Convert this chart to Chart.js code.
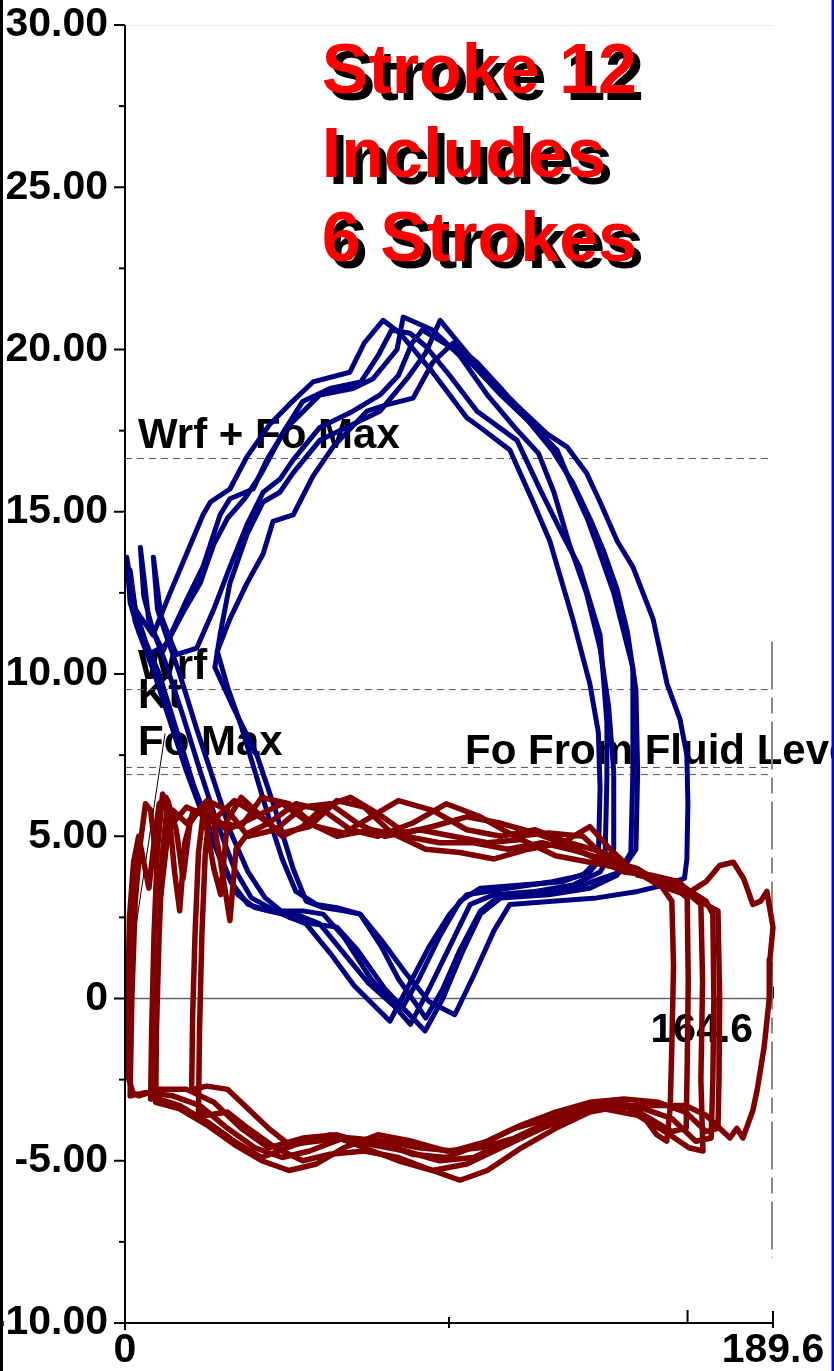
<!DOCTYPE html>
<html>
<head>
<meta charset="utf-8">
<script src="https://cdn.jsdelivr.net/npm/chart.js@4.4.1/dist/chart.umd.min.js"></script>
<style>
  html, body { margin: 0; padding: 0; background: #fff; }
  #wrap { width: 834px; height: 1371px; }
</style>
</head>
<body>
<div id="wrap"><canvas id="card" width="834" height="1371"></canvas></div>
<script>
// axis ranges and ticks
const xRange = [0, 189.6];
const yRange = [-10, 30];
const yTickValues = [30, 25, 20, 15, 10, 5, 0, -5, -10];
const yTickLabels = ['30.00', '25.00', '20.00', '15.00', '10.00', '5.00', '0', '-5.00', '-10.00'];
const yMinorTicks = [27.5, 22.5, 17.5, 12.5, 7.5, 2.5, -2.5, -7.5];
const xTickValues = [0, 94.8, 164.6, 189.6];
const xTickLabels = ['0', '', '', '189.6'];

// reference levels
const refNames = ['Wrf + Fo Max', 'Wrf', 'Fo Max', 'Fo From Fluid Level'];
const refLevels = [16.64, 9.52, 7.12, 6.90];
const ktLabel = 'Kt';
const strokeMark = 164.6;
const strokeMarkLabel = '164.6';
const titleLines = ['Stroke 12', 'Includes', '6 Strokes'];

// surface card, six strokes (blue)
const surf1 = [[0.5,13.6],[1.5,12.2],[4,11.3],[8,10.2],[13,8.6],[18,7.0],[24,5.3],[29,4.0],[33,3.2],[38,2.8],[46,2.6],[53,2.3],[60,1.4],[67,0.4],[77.5,-0.7],[83,0.4],[89,1.6],[95,2.6],[100,3.2],[112,3.4],[125,3.6],[134,3.8],[138.5,4.3],[139,6.5],[138.5,8.2],[136,9.7],[131,11.7],[124.3,14.1],[119.4,15.3],[112.6,16.9],[103.9,17.6],[100,17.9],[90,19.3],[80.5,20.5],[75.5,20.9],[70,20.2],[65.8,19.3],[55,19.0],[48,18.3],[42.4,17.7],[35.7,16.7],[30.7,15.7],[25,15.3],[22.8,14.9],[18,13.7],[13.2,12.5],[8.2,11.2],[3,12.0],[0.5,13.6]];
const surf2 = [[1.5,13.2],[3,12],[6,11],[10,10],[15,8.3],[20,6.6],[26,4.9],[31,3.6],[36,2.9],[42,2.7],[50,2.6],[57,2.3],[64,1.4],[71,0.5],[80.5,-0.4],[86,0.6],[92,1.9],[98,3.0],[104,3.4],[116,3.5],[128,3.6],[136,3.9],[140.5,4.5],[141,6.8],[141,8.5],[139,11.2],[133,13.3],[128,14.3],[121.4,15.7],[114.7,17.2],[103,18.1],[95,19.2],[88,20.1],[83.4,20.5],[78,20.6],[74,19.8],[69,19.0],[60,18.8],[52,18.4],[46,17.4],[40,16.2],[35,15.4],[30,14.8],[26,14.0],[22,12.8],[17,11.9],[12,10.9],[7,10.6],[3,11.6],[1.5,13.2]];
const surf3 = [[4.5,13.9],[5.5,12.4],[8,11.4],[12,10.3],[17,8.7],[22,7.0],[27,5.4],[32,4.0],[37,3.1],[44,2.7],[52,2.7],[58,2.6],[64,1.9],[72,0.6],[83.5,-0.8],[89,0.3],[95,1.6],[101,2.9],[108,3.2],[120,3.3],[131,3.5],[139,3.9],[143,4.6],[143,7.0],[141.5,9.0],[139,10.8],[135,12.5],[130,14.0],[125.5,15.6],[121,16.8],[114,17.6],[106,18.6],[98,19.8],[90,20.6],[81.4,21.0],[79.6,20.0],[72.6,19.1],[66.7,18.8],[57,18.6],[47.4,17.6],[41.5,16.6],[37.5,15.7],[30.7,15.4],[27.8,14.9],[22.8,13.3],[18.1,12.3],[11.1,10.7],[7,11.6],[5.5,13.0],[4.5,13.9]];
const surf4 = [[8.3,13.6],[9.5,12],[12,11.2],[16,10.0],[21,8.3],[26,6.7],[31,5.1],[36,3.9],[41,3.1],[48,2.5],[55,2.3],[62,2.2],[68,1.5],[76,0.3],[87.8,-1.0],[93,0.0],[99,1.5],[104,2.6],[110,3.1],[124,3.2],[136,3.4],[144,3.8],[148,4.5],[148.6,7.0],[148.6,10.2],[143,12.5],[138,14.0],[135.2,14.8],[130,16.0],[126.4,16.9],[118,17.8],[110,18.6],[102,19.5],[95,20.1],[87,20.6],[84,20.2],[80,19.2],[74.6,18.6],[66.7,18.1],[57,17.6],[49.2,16.6],[45.3,16.0],[40.4,15.6],[35.7,14.6],[30.7,13.3],[26,12.0],[21,10.8],[15,10.6],[10.5,11.8],[8.3,13.6]];
const surf5 = [[27,10.7],[30,9.6],[34,8.4],[38,7.0],[42,5.6],[46,4.3],[50,3.3],[56,2.9],[62,2.8],[68.8,2.6],[75,1.6],[80,0.6],[88,-0.6],[93,0.3],[98,1.5],[104,2.7],[110,3.2],[122,3.3],[134,3.5],[145,3.9],[149.5,4.6],[150,7.0],[149.5,9.5],[147,11.3],[144,12.6],[140,13.8],[136,14.8],[131,15.9],[125,16.9],[118,17.8],[110,18.8],[103,19.6],[96,20.2],[90,19.6],[84.3,18.5],[76.7,18.3],[70.8,18.1],[60.9,17.0],[55,16.1],[49.2,14.9],[43.3,14.7],[40.4,13.7],[35.7,12.8],[30.7,11.7],[27,10.7]];
const surf6 = [[26.3,10.2],[32,8.9],[38.6,7.5],[44,5.8],[49.2,4.0],[53,3.0],[58,2.8],[64,2.7],[68.8,2.6],[75,1.8],[82,0.8],[89,-0.1],[96.5,-0.5],[102,0.7],[108,2.1],[112.6,2.9],[125,3.0],[138,3.1],[150,3.3],[158,3.5],[163.7,3.7],[164.4,4.3],[164.7,6.0],[164.4,7.5],[162.4,8.6],[158.6,9.7],[154.5,11.7],[148.6,13.3],[144,14.1],[139,15.3],[135,16.2],[129.3,17.0],[123.5,17.4],[116.4,18.1],[109.7,18.8],[103.9,19.4],[92.2,20.9],[88,19.9],[82.5,19.1],[74.6,18.1],[66.7,17.7],[57,17.2],[49.2,16.2],[45.3,15.6],[40.4,15.3],[35.7,14.3],[30.7,12.8],[27.8,11.2],[26.3,10.2]];

// pump card, six strokes (dark red)
const pump1 = [[0.6,-2.3],[0.8,0],[1.3,2.5],[2.5,4.2],[4,5.0],[5.5,4.2],[7,3.4],[8.5,4.8],[10,6.0],[12,6.2],[14,5.4],[18,5.9],[24,5.6],[30,5.2],[38,5.6],[46,6.0],[54,5.4],[62,5.0],[72,5.2],[82,5.0],[92,4.8],[102,4.8],[112,4.6],[122,4.8],[130,4.6],[140,4.3],[150,4.0],[156,3.6],[160,3.0],[160.5,1],[160,-1.5],[159.5,-3.4],[158.5,-4.4],[155.6,-4.2],[150,-3.4],[140,-3.3],[132,-3.6],[122,-4.0],[112,-4.4],[102,-4.9],[92,-5.0],[82,-4.7],[72,-4.5],[62,-4.2],[52,-4.3],[42,-4.6],[34,-4.0],[26,-3.2],[18,-2.8],[10,-2.8],[4,-3.0],[2.3,-2.9],[0.6,-2.3]];
const pump2 = [[1.5,-3.0],[2,0],[3,3],[4.5,4.8],[6,6.0],[7.5,5.8],[9,4.4],[10.5,3.2],[12,4.6],[14,5.8],[18,5.4],[24,6.1],[30,5.8],[36,5.0],[44,5.2],[52,5.9],[60,6.0],[68,5.4],[76,5.0],[86,5.2],[96,5.0],[106,4.8],[116,4.9],[126,4.4],[136,4.2],[146,4.0],[155,3.7],[161,3.4],[164.5,3.1],[164.8,0.5],[164.5,-2],[164.2,-4.0],[160,-4.1],[152,-3.6],[144,-3.2],[134,-3.3],[124,-3.7],[114,-4.0],[104,-4.5],[94,-4.9],[84,-4.8],[74,-4.4],[64,-4.3],[54,-4.7],[46,-4.9],[38,-4.6],[30,-4.0],[22,-3.3],[14,-3.0],[6,-2.9],[1.5,-3.0]];
const pump3 = [[7.5,-3.1],[7.8,-1],[8.5,2],[9.5,4.6],[11,6.3],[13,5.6],[14.5,3.9],[16,2.7],[17.5,4.8],[20,5.8],[26,5.5],[32,6.1],[38,5.7],[46,5.1],[54,5.3],[62,6.1],[70,5.9],[78,5.1],[88,4.6],[98,4.5],[108,4.3],[118,4.6],[128,4.8],[136,5.3],[142,4.6],[150,3.8],[158,3.6],[164,3.3],[168.5,2.9],[169,0.5],[168.5,-2.5],[169.1,-4.7],[165,-4.6],[158,-4.1],[150,-3.6],[140,-3.4],[130,-3.6],[120,-4.1],[110,-4.6],[100,-5.1],[90,-5.3],[80,-5.0],[70,-4.6],[60,-4.2],[50,-4.5],[40,-4.9],[32,-4.4],[24,-3.8],[16,-3.3],[10,-3.1],[7.5,-3.1]];
const pump4 = [[9,-3.2],[9.2,-1],[10,2],[11,4.5],[12.5,6.1],[15,5.2],[17,3.7],[19,5.4],[23,6.0],[28,5.4],[34,5.3],[40,6.2],[48,6.0],[56,5.3],[64,5.1],[72,5.6],[80,6.1],[90,5.8],[100,5.2],[110,5.0],[120,5.2],[130,4.8],[140,4.5],[148,4.0],[156,3.7],[164,3.4],[170,3.0],[172,2.6],[172.3,0],[172,-2.5],[171.5,-4.3],[167,-4.4],[160,-3.7],[152,-3.4],[144,-3.2],[134,-3.4],[124,-3.8],[114,-4.3],[104,-4.6],[94,-4.7],[84,-4.4],[74,-4.2],[64,-4.6],[56,-5.1],[48,-5.3],[40,-5.0],[32,-4.5],[24,-3.9],[16,-3.4],[9,-3.2]];
const pump5 = [[19.5,-2.8],[19.8,-0.5],[20.5,2],[21.5,4.5],[23,5.8],[26,4.0],[28,3.2],[30,5.5],[34,6.2],[40,5.6],[46,5.0],[52,5.3],[58,5.9],[66,6.2],[74,5.7],[82,5.1],[90,5.3],[100,5.6],[110,5.4],[120,5.1],[130,4.7],[138,4.3],[146,3.9],[154,3.8],[162,3.6],[168,3.0],[173.5,2.7],[174,0],[173.8,-2.5],[173.5,-4.0],[170,-4.1],[164,-3.5],[156,-3.2],[146,-3.1],[136,-3.2],[126,-3.5],[116,-3.9],[106,-4.4],[96,-4.7],[86,-4.6],[76,-4.4],[66,-4.3],[56,-4.4],[48,-4.5],[42,-4.0],[36,-3.4],[30,-2.8],[24,-2.7],[19.5,-2.8]];
const pump6 = [[21.5,-3.5],[21.8,-1],[22.5,2],[23.5,4.5],[25,6.0],[28,4.2],[30.7,2.4],[32.5,4.6],[36,5.1],[42,5.4],[50,6.0],[58,5.8],[66,5.2],[74,5.0],[84,5.4],[94,6.0],[104,5.6],[114,5.0],[124,5.1],[134,5.0],[140,4.4],[148,4.0],[156,3.5],[164,3.2],[170,3.6],[174,4.1],[178,4.2],[181,3.7],[183.7,2.9],[186,3.0],[187.8,3.3],[189.6,2.2],[188.7,1.2],[188.5,0],[187,-1.5],[185,-2.8],[183.7,-3.45],[180.8,-4.3],[179,-4.0],[177,-4.3],[174,-4.0],[170,-3.6],[164,-3.3],[156,-3.3],[146,-3.3],[136,-3.5],[126,-4.0],[116,-4.6],[106,-5.3],[98,-5.6],[90,-5.3],[80,-4.9],[70,-4.7],[60,-4.8],[52,-5.0],[44,-4.6],[36,-4.0],[30,-3.5],[24,-3.6],[21.5,-3.5]];

// leader from origin and the end-of-stroke marker line
const leader = [[0, 0], [11.7, 8.15]];
const endMarker = [[189.3, 11], [189.3, -8]];

const FONT = '"Liberation Sans", Arial, Helvetica, sans-serif';
const surfStrokes = [surf1, surf2, surf3, surf4, surf5, surf6];
const pumpStrokes = [pump1, pump2, pump3, pump4, pump5, pump6];

function pts(arr) { return arr.map(p => ({ x: p[0], y: p[1] })); }
function curve(arr, color, width) {
    return {
        data: pts(arr), showLine: true, borderColor: color, borderWidth: width,
        pointRadius: 0, fill: false, tension: 0, clip: false,
        borderJoinStyle: 'round', borderCapStyle: 'round'
    };
}

const datasets = [];
pumpStrokes.forEach(s => datasets.push(curve(s, '#800000', 5.5)));
surfStrokes.forEach(s => datasets.push(curve(s, '#000080', 5)));
datasets.push(curve(leader, '#000', 1));
refLevels.forEach(v => datasets.push(Object.assign(curve([[xRange[0], v], [xRange[1], v]], '#555', 1), { borderDash: [7, 5], borderCapStyle: 'butt' })));
datasets.push(Object.assign(curve([[xRange[0], 0], [xRange[1], 0]], '#666', 1.5), { borderCapStyle: 'butt' }));
datasets.push(Object.assign(curve(endMarker, '#888', 2), { borderDash: [48, 8, 16, 8], borderCapStyle: 'butt' }));

const cardDecor = {
    id: 'cardDecor',
    beforeDraw(chart) {
        const c = chart.ctx;
        c.save();
        c.fillStyle = '#fff';
        c.fillRect(0, 0, chart.width, chart.height);
        c.restore();
    },
    beforeDatasetsDraw(chart) {
        const c = chart.ctx, xs = chart.scales.x, ys = chart.scales.y;
        const area = chart.chartArea;
        c.save();
        // faint top grid line
        c.strokeStyle = '#ececf6';
        c.lineWidth = 1;
        c.beginPath();
        c.moveTo(area.left, ys.getPixelForValue(30) + 0.5);
        c.lineTo(area.right, ys.getPixelForValue(30) + 0.5);
        c.stroke();

        // title with drop shadow
        c.font = 'bold 70px ' + FONT;
        c.textBaseline = 'alphabetic';
        c.textAlign = 'left';
        const tx = xs.getPixelForValue(57.6), ty = ys.getPixelForValue(27.9);
        titleLines.forEach((t, i) => {
            c.fillStyle = '#000';
            c.fillText(t, tx + 7, ty + 7 + i * 84);
            c.fillStyle = '#ff0000';
            c.fillText(t, tx, ty + i * 84);
        });

        // reference level labels
        c.font = 'bold 42px ' + FONT;
        c.fillStyle = '#000';
        const lx = xs.getPixelForValue(3.8);
        c.fillText(refNames[0], lx, ys.getPixelForValue(refLevels[0]) - 11);
        c.fillText(refNames[1], lx, ys.getPixelForValue(refLevels[1]) - 11);
        c.fillText(ktLabel, lx, ys.getPixelForValue(refLevels[1]) + 18);
        c.fillText(refNames[2], lx, ys.getPixelForValue(refLevels[2]) - 12);
        c.fillText(refNames[3], xs.getPixelForValue(99.5), ys.getPixelForValue(refLevels[3]) - 11);

        // end-of-stroke value
        c.font = 'bold 41px ' + FONT;
        c.fillText(strokeMarkLabel, xs.getPixelForValue(strokeMark) - 37, ys.getPixelForValue(0) + 43);

        // ticks on the zero line
        const z = ys.getPixelForValue(0);
        c.strokeStyle = '#000';
        c.lineWidth = 1;
        [strokeMark, xRange[1]].forEach(v => {
            const px = Math.round(xs.getPixelForValue(v)) + 0.5;
            c.beginPath();
            c.moveTo(px, z - 12);
            c.lineTo(px, z);
            c.stroke();
        });
        c.restore();
    },
    afterDraw(chart) {
        const c = chart.ctx, xs = chart.scales.x, ys = chart.scales.y;
        const area = chart.chartArea;
        c.save();
        c.strokeStyle = '#000';
        c.lineWidth = 2;
        // axis lines
        c.beginPath();
        c.moveTo(area.left, area.top);
        c.lineTo(area.left, area.bottom + 7);
        c.moveTo(area.left, area.bottom);
        c.lineTo(area.right + 1, area.bottom);
        c.stroke();
        // y ticks
        yTickValues.forEach(v => {
            const py = ys.getPixelForValue(v);
            c.beginPath(); c.moveTo(area.left - 11, py); c.lineTo(area.left, py); c.stroke();
        });
        yMinorTicks.forEach(v => {
            const py = ys.getPixelForValue(v);
            c.beginPath(); c.moveTo(area.left - 6, py); c.lineTo(area.left, py); c.stroke();
        });
        // x ticks
        const b = area.bottom;
        const xt = [[xTickValues[1], -6, 5], [xTickValues[2], -13, 0], [xTickValues[3], -12, 5]];
        xt.forEach(([v, up, down]) => {
            const px = xs.getPixelForValue(v);
            c.beginPath(); c.moveTo(px, b + up); c.lineTo(px, b + down); c.stroke();
        });
        // frame edges
        c.fillStyle = '#000';
        c.fillRect(0, 0, 3, chart.height);
        c.fillStyle = '#0000ff';
        c.fillRect(chart.width - 2.5, 0, 2.5, chart.height);
        c.restore();
    }
};

new Chart(document.getElementById('card').getContext('2d'), {
    type: 'scatter',
    data: { datasets: datasets },
    options: {
        responsive: false,
        animation: false,
        events: [],
        layout: { padding: { top: 25, right: 61, bottom: 0, left: 0 } },
        plugins: { legend: { display: false }, tooltip: { enabled: false }, title: { display: false } },
        scales: {
            x: {
                type: 'linear', min: xRange[0], max: xRange[1],
                grid: { display: false, drawTicks: true, tickLength: 5 },
                border: { display: false },
                afterBuildTicks: s => { s.ticks = xTickValues.map(v => ({ value: v })); },
                afterFit: s => { s.height = 48; },
                ticks: {
                    autoSkip: false, maxRotation: 0, padding: 0,
                    color: '#000',
                    font: { family: FONT, size: 41, weight: 'bold', lineHeight: 1.1 },
                    callback: (v, i) => xTickLabels[i]
                }
            },
            y: {
                type: 'linear', min: yRange[0], max: yRange[1],
                grid: { display: false, drawTicks: true, tickLength: 17 },
                border: { display: false },
                afterBuildTicks: s => { s.ticks = yTickValues.map(v => ({ value: v })); },
                afterFit: s => { s.width = 125; },
                ticks: {
                    autoSkip: false, padding: 0,
                    color: '#000',
                    font: { family: FONT, size: 41, weight: 'bold' },
                    callback: (v, i) => yTickLabels[i]
                }
            }
        }
    },
    plugins: [cardDecor]
});
</script>
</body>
</html>
